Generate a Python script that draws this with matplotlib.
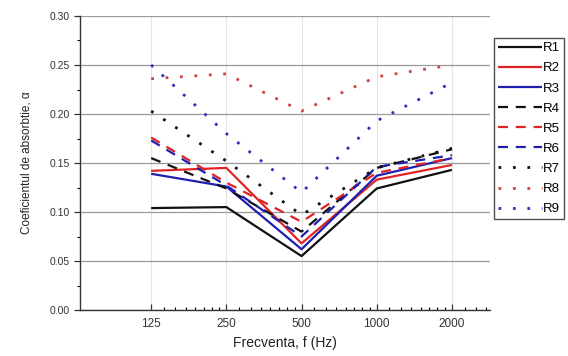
import matplotlib
matplotlib.use("Agg")
import matplotlib.pyplot as plt
from matplotlib.ticker import FixedLocator, NullFormatter
import numpy as np

plt.rcParams['font.family'] = ['Liberation Sans', 'DejaVu Sans']

freqs = [125, 250, 500, 1000, 2000]
tick_labels = ["125", "250", "500", "1000", "2000"]
series_names = ["R1", "R2", "R3", "R4", "R5", "R6", "R7", "R8", "R9"]
R1 = [0.104, 0.105, 0.055, 0.124, 0.143]
R2 = [0.142, 0.145, 0.068, 0.133, 0.148]
R3 = [0.139, 0.126, 0.062, 0.137, 0.155]
R4 = [0.155, 0.124, 0.080, 0.145, 0.164]
R5 = [0.176, 0.130, 0.090, 0.140, 0.155]
R6 = [0.173, 0.127, 0.075, 0.146, 0.158]
R7 = [0.203, 0.152, 0.097, 0.145, 0.165]
R8 = [0.236, 0.241, 0.203, 0.238, 0.250]
R9 = [0.250, 0.180, 0.120, 0.193, 0.232]
values = [R1, R2, R3, R4, R5, R6, R7, R8, R9]

black = "#111111"
red = "#e02424"
blue = "#2020b0"
colors = [black, red, blue, black, red, blue, black, "#d04040", "#3030c0"]
solid = "-"
dashed = (0, (4.5, 3.5))
dotted = (0, (1, 4.2))
styles = [solid, solid, solid, dashed, dashed, dashed, dotted, dotted, dotted]

fig = plt.figure(figsize=(5.68, 3.56), dpi=100)
ax = fig.add_axes([80/568, 1-310/356, 410/568, 294/356])

for name, vals, c, ls in zip(series_names, values, colors, styles):
    lw = 1.6 if ls != dotted else 2.0
    ax.plot(freqs, vals, color=c, linestyle=ls, linewidth=lw, label=name,
            solid_capstyle='butt', dash_capstyle='butt')

ax.set_xscale('log', base=2)
ax.set_xlim(125 / 2**(71/75), 2000 * 2**(38/75))
ax.set_ylim(0, 0.30)
ax.xaxis.set_major_locator(FixedLocator(freqs))
ax.set_xticklabels(tick_labels)
minor = []
for f in freqs:
    minor += [f + f * k / 8 for k in range(1, 8)]
ax.xaxis.set_minor_locator(FixedLocator(minor))
ax.xaxis.set_minor_formatter(NullFormatter())
yt = np.arange(0, 0.301, 0.05)
ax.set_yticks(yt)
ax.set_yticklabels([f"{v:.2f}" for v in yt])
ax.set_yticks(np.arange(0.025, 0.3, 0.05), minor=True)

ax.tick_params(axis='y', which='major', direction='out', length=4, width=0.9, labelsize=7.5, colors='#333333')
ax.tick_params(axis='y', which='minor', direction='out', length=2.5, width=0.8)
ax.tick_params(axis='x', which='major', direction='in', length=4, width=0.9, labelsize=8.5, colors='#333333', pad=6)
ax.tick_params(axis='x', which='minor', direction='in', length=2.5, width=0.8)

for s in ['top', 'right']:
    ax.spines[s].set_visible(False)
for s in ['left', 'bottom']:
    ax.spines[s].set_linewidth(1.0)
    ax.spines[s].set_color('#333333')

ax.yaxis.grid(True, color='#9a9a9a', linewidth=0.9)
ax.xaxis.grid(True, which='major', color='#e4e4e4', linewidth=0.8)
ax.set_axisbelow(True)

ax.set_xlabel("Frecventa, f (Hz)", fontsize=10, color='#222222', labelpad=4)
ax.set_ylabel("Coeficientul de absorbtie, α", fontsize=8.5, color='#222222', labelpad=12)

leg = fig.legend(loc='upper left', bbox_to_anchor=(494/568, 1-38/356), fontsize=9.5,
                 handlelength=3.3, handletextpad=0.1, labelspacing=0.6,
                 borderpad=0.3, borderaxespad=0, frameon=True, fancybox=False)
leg.get_frame().set_edgecolor('#222222')
leg.get_frame().set_linewidth(1.0)

fig.savefig("out.png", dpi=100)
